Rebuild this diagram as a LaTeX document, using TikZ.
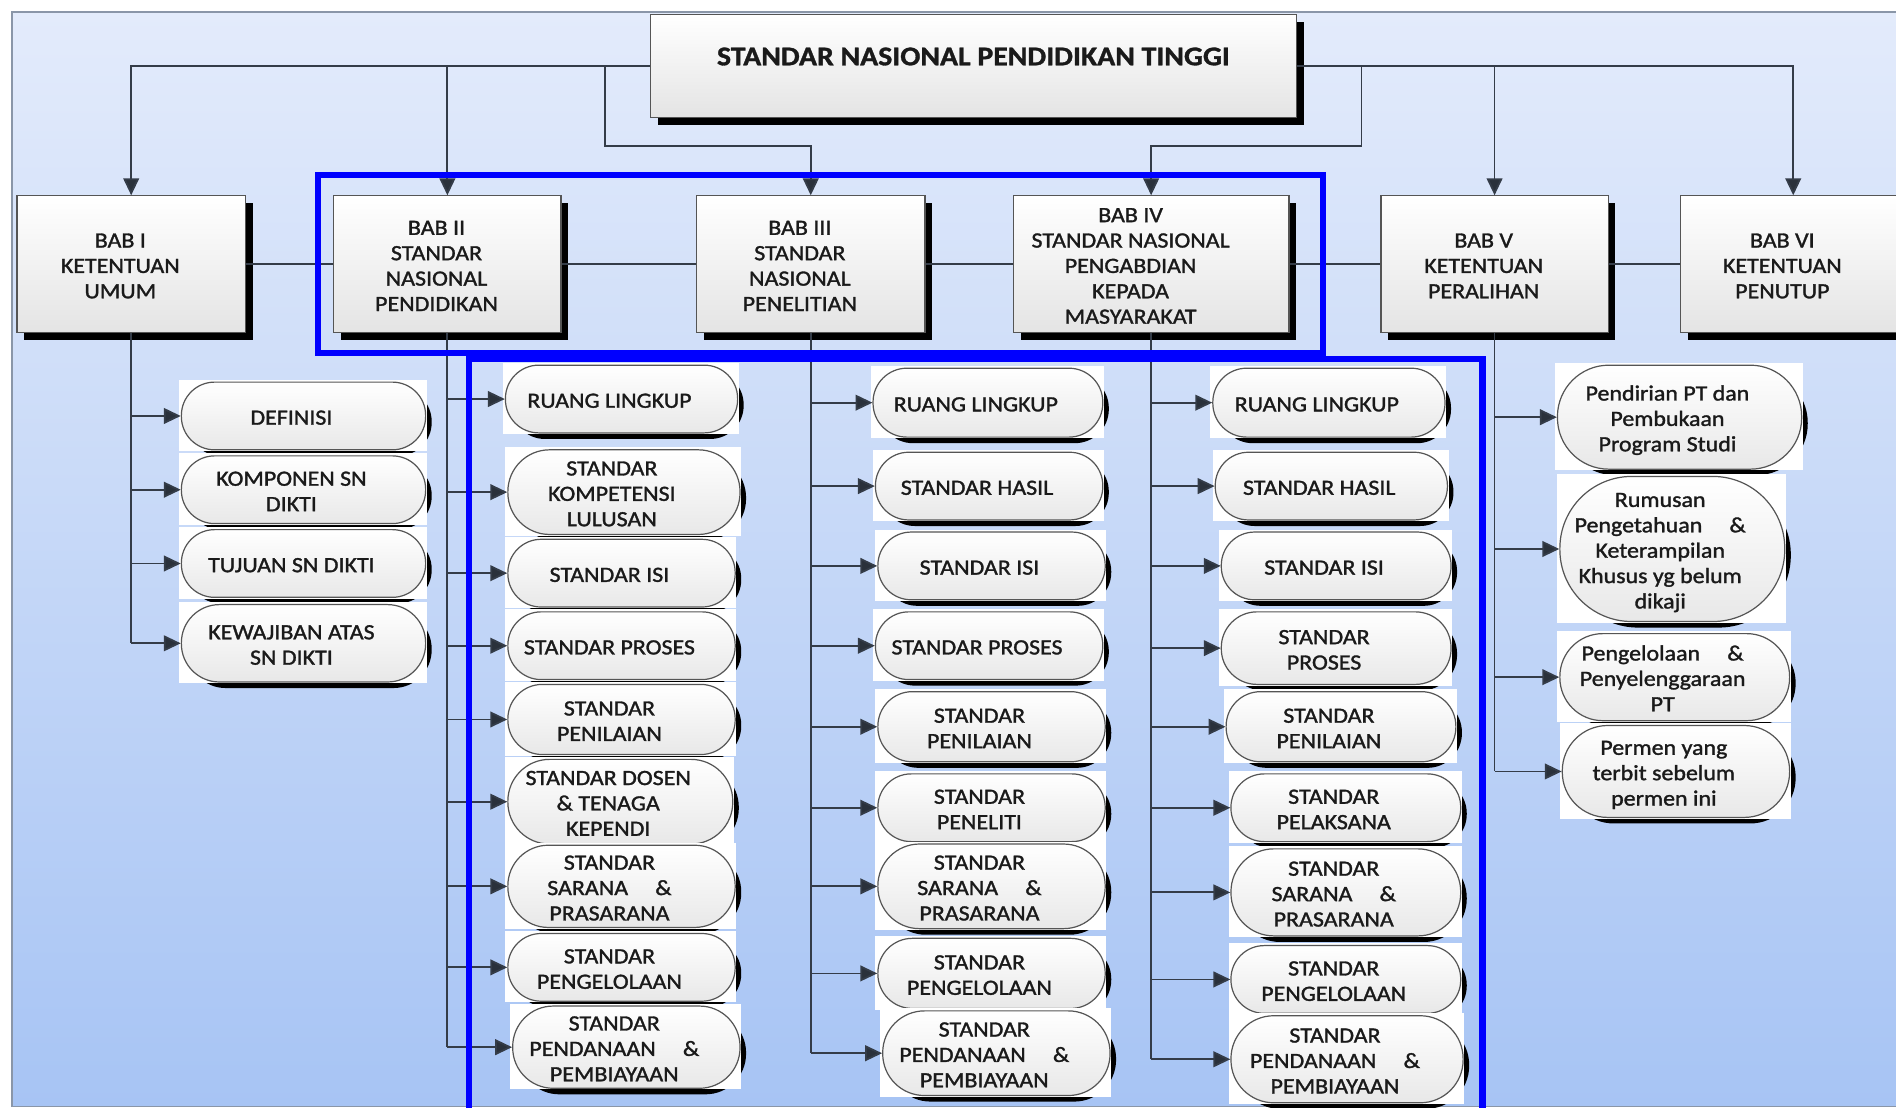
\documentclass[tikz,border=0pt]{standalone}
\usepackage{fontspec}
\setmainfont{Carlito}[FakeStretch=1.1]
\newfontfamily\medfont{Carlito}[FakeStretch=1.1,FakeBold=1.4]
\newfontfamily\heavyfont{Carlito}[FakeStretch=1.1,FakeBold=1.2,UprightFont=* Bold]
\usetikzlibrary{arrows.meta,shadows}
\definecolor{bgtop}{HTML}{E3EBFB}
\definecolor{bgbot}{HTML}{A7C4F4}
\definecolor{framec}{HTML}{8A96A8}
\definecolor{linec}{HTML}{343C48}
\definecolor{arrc}{HTML}{2A313B}
\definecolor{boxborder}{HTML}{555555}
\definecolor{boxbot}{HTML}{E4E4E4}
\definecolor{pillbot}{HTML}{E8E8E8}
\definecolor{textc}{HTML}{1A1A1A}
\definecolor{hiblue}{HTML}{0000FF}
\newcommand\Lines[2][0]{\raisebox{-3pt}[\height][\depth]{\begin{tabular}{@{}c@{}}#2\end{tabular}}\hspace*{#1pt}}
\newcommand\Pill[6]{%
  \pgfmathsetmacro\pr{#5/2-0.5}%
  \fill[black, rounded corners=\pr] ({#2-#4/2+5},{#3-#5/2+5}) rectangle ({#2+#4/2+5},{#3+#5/2+5});
  \fill[white] ({#2-#4/2-2},{#3-#5/2-2}) rectangle ({#2+#4/2+1},{#3+#5/2+1});
  \node[pill, minimum width=#4, minimum height=#5, rounded corners=\pr] (#1) at (#2,#3) {\Lines[20]{#6}};
}
\newcommand\Bab[7][18]{%
  \node[babbox, minimum width=#5, minimum height=#6] (#2) at (#3,#4) {\Lines[#1]{#7}};
}
\begin{document}
\begin{tikzpicture}[x=1pt,y=-1pt,
  line/.style={draw=linec, line width=1.5pt},
  arr/.style={line, -{Triangle[length=14pt,width=13pt,fill=arrc]}},
  babbox/.style={draw=boxborder, line width=1pt, top color=white, bottom color=boxbot,
     inner sep=0pt, text=textc, font=\medfont\fontsize{18}{21}\selectfont,
     drop shadow={opacity=1, fill=black, shadow xshift=6pt, shadow yshift=-6pt}},
  pill/.style={draw=boxborder, line width=1pt, top color=white, bottom color=pillbot,
     inner sep=0pt, text=textc, font=\medfont\fontsize{18}{21}\selectfont},
  hibox/.style={draw=hiblue, line width=5pt}]
\clip (0,0) rectangle (1568,916);
\useasboundingbox (0,0) rectangle (1568,916);
\fill[white] (0,0) rectangle (1568,916);
\shade[top color=bgtop, bottom color=bgbot] (10,10) rectangle (1600,915);
\draw[framec, line width=1.2pt] (1600,10) -- (10,10) -- (10,915) -- (1600,915);

% title
\node[babbox, minimum width=534, minimum height=85, text height=16pt, text depth=17pt,
  font=\heavyfont\fontsize{22.4}{26}\selectfont] (top) at (805,54.5) {STANDAR NASIONAL PENDIDIKAN TINGGI};

% chapters
\Bab{b1}{108.5}{218.5}{189}{113}{BAB I\\KETENTUAN\\UMUM}
\Bab{b2}{370}{218.5}{188}{113}{BAB II\\STANDAR\\NASIONAL\\PENDIDIKAN}
\Bab{b3}{670.5}{218.5}{189}{113}{BAB III\\STANDAR\\NASIONAL\\PENELITIAN}
\Bab[34]{b4}{952}{218.5}{228}{113}{BAB IV\\STANDAR NASIONAL\\PENGABDIAN\\KEPADA\\MASYARAKAT}
\Bab{b5}{1236}{218.5}{188}{113}{BAB V\\KETENTUAN\\PERALIHAN}
\Bab{b6}{1483}{218.5}{186}{113}{BAB VI\\KETENTUAN\\PENUTUP}

% connectors from title
\coordinate (j3) at (500,54.5);
\coordinate (j4) at (1126,54.5);
\draw[arr] (top.west) -| (b1.north);
\draw[arr] (top.west -| b2.north) -- (b2.north);
\draw[arr] (j3) -- ++(0,66) -| (b3.north);
\draw[arr] (j4) -- ++(0,66) -| (b4.north);
\draw[arr] (top.east) -| (b6.north);
\draw[arr] (top.east -| b5.north) -- (b5.north);
\draw[line] (b1.east) -- (b2.west);
\draw[line] (b2.east) -- (b3.west);
\draw[line] (b3.east) -- (b4.west);
\draw[line] (b4.east) -- (b5.west);
\draw[line] (b5.east) -- (b6.west);

% BAB I items
\Pill{a1}{251}{344}{202}{56}{DEFINISI}
\Pill{a2}{251}{405}{202}{56}{KOMPONEN SN\\DIKTI}
\Pill{a3}{251}{466}{202}{56}{TUJUAN SN DIKTI}
\Pill{a4}{251}{532}{202}{64}{KEWAJIBAN ATAS\\SN DIKTI}

% BAB II items
\Pill{c1}{514}{330}{192}{56}{RUANG LINGKUP}
\Pill{c2}{516}{407}{192}{70}{STANDAR\\KOMPETENSI\\LULUSAN}
\Pill{c3}{514}{474}{188}{56}{STANDAR ISI}
\Pill{c4}{514}{534}{188}{56}{STANDAR PROSES}
\Pill{c5}{514}{595}{188}{58}{STANDAR\\PENILAIAN}
\Pill{c6}{513}{663}{186}{70}{STANDAR DOSEN\\\& TENAGA\\KEPENDI}
\Pill{c7}{514}{733}{188}{68}{STANDAR\\SARANA \quad\&\\PRASARANA}
\Pill{c8}{514}{800}{188}{56}{STANDAR\\PENGELOLAAN}
\Pill{c9}{518}{866}{188}{68}{STANDAR\\PENDANAAN \quad\&\\PEMBIAYAAN}

% BAB III items
\Pill{d1}{817}{333}{190}{57}{RUANG LINGKUP}
\Pill{d2}{818}{402}{188}{56}{STANDAR HASIL}
\Pill{d3}{820}{468}{188}{56}{STANDAR ISI}
\Pill{d4}{818}{534}{188}{56}{STANDAR PROSES}
\Pill{d5}{820}{601}{188}{58}{STANDAR\\PENILAIAN}
\Pill{d6}{820}{668}{188}{56}{STANDAR\\PENELITI}
\Pill{d7}{820}{733}{188}{70}{STANDAR\\SARANA \quad\&\\PRASARANA}
\Pill{d8}{820}{805}{188}{58}{STANDAR\\PENGELOLAAN}
\Pill{d9}{824}{871}{188}{70}{STANDAR\\PENDANAAN \quad\&\\PEMBIAYAAN}

% BAB IV items
\Pill{e1}{1099}{333}{192}{57}{RUANG LINGKUP}
\Pill{e2}{1101}{402}{192}{56}{STANDAR HASIL}
\Pill{e3}{1105}{468}{190}{56}{STANDAR ISI}
\Pill{e4}{1105}{536}{190}{60}{STANDAR\\PROSES}
\Pill{e5}{1109}{601}{190}{58}{STANDAR\\PENILAIAN}
\Pill{e6}{1113}{668}{190}{56}{STANDAR\\PELAKSANA}
\Pill{e7}{1113}{738}{190}{72}{STANDAR\\SARANA \quad\&\\PRASARANA}
\Pill{e8}{1113}{810}{190}{56}{STANDAR\\PENGELOLAAN}
\Pill{e9}{1114}{876}{192}{72}{STANDAR\\PENDANAAN \quad\&\\PEMBIAYAAN}

% BAB V items
\Pill{f1}{1389}{345}{202}{86}{Pendirian PT dan\\Pembukaan\\Program Studi}
\Pill{f2}{1383}{454}{186}{120}{Rumusan\\Pengetahuan \quad\&\\Keterampilan\\Khusus yg belum\\dikaji}
\Pill{f3}{1385}{560}{190}{72}{Pengelolaan \quad\&\\Penyelenggaraan\\PT}
\Pill{f4}{1386}{638}{188}{76}{Permen yang\\terbit sebelum\\permen ini}

% spines and branches
\draw[line] (b1.south) -- (b1.south |- a4.west);
\foreach \p in {a1,a2,a3,a4} \draw[arr] (b1.south |- \p.west) -- (\p.west);
\draw[line] (b2.south) -- (b2.south |- c9.west);
\foreach \p in {c1,c2,c3,c4,c5,c6,c7,c8,c9} \draw[arr] (b2.south |- \p.west) -- (\p.west);
\draw[line] (b3.south) -- (b3.south |- d9.west);
\foreach \p in {d1,d2,d3,d4,d5,d6,d7,d8,d9} \draw[arr] (b3.south |- \p.west) -- (\p.west);
\draw[line] (b4.south) -- (b4.south |- e9.west);
\foreach \p in {e1,e2,e3,e4,e5,e6,e7,e8,e9} \draw[arr] (b4.south |- \p.west) -- (\p.west);
\draw[line] (b5.south) -- (b5.south |- f4.west);
\foreach \p in {f1,f2,f3,f4} \draw[arr] (b5.south |- \p.west) -- (\p.west);

% highlight frames
\draw[hibox] (263,145) rectangle (1094,292);
\draw[hibox] (388,297) rectangle (1226,940);
\end{tikzpicture}
\end{document}
